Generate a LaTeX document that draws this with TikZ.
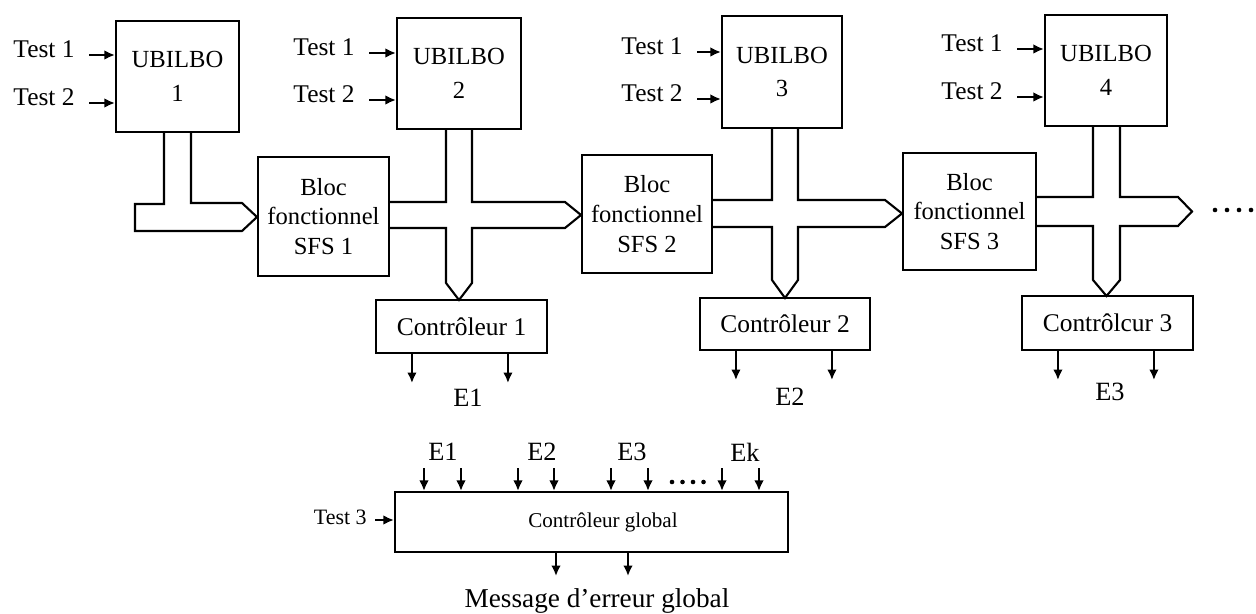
\documentclass[tikz,border=0pt]{standalone}
\usepackage{fontspec}
\setmainfont{Liberation Serif}
\usetikzlibrary{arrows.meta,calc}

\tikzset{
  sz/.style 2 args={minimum width={#1*0.02cm}, minimum height={#2*0.02cm}},
  blk/.style={draw, line width=1.2pt, align=center, inner sep=0pt},
  ubox/.style={blk, font=\fontsize{14}{19}\selectfont},
  fbox/.style={blk, font=\fontsize{14}{17}\selectfont},
  cbox/.style={blk, font=\fontsize{14.5}{17}\selectfont},
  tlab/.style={inner sep=0pt, font=\fontsize{14.5}{16}\selectfont},
  elab/.style={inner sep=0pt, font=\fontsize{15}{17}\selectfont},
  arr/.style={line width=1.3pt, -{Latex[length=6pt,width=5.5pt]}},
  bus/.style={line width=1.2pt, line join=miter},
}

% a "Test" label with its input arrow into a UBILBO box
\newcommand\testin[4]{%
  \node[tlab, anchor=east] (#1) at #2 {#3};
  \draw[arr] ($(#1.east)+(14,6)$) -- ($(#1.east -| #4.west)+(0,6)$);
}

\begin{document}
\begin{tikzpicture}[x=0.02cm, y=-0.02cm]
\useasboundingbox (0,0) rectangle (1256,614);

% UBILBO registers
\node[ubox, sz={123}{111}] (U1) at (177.5,76.5) {UBILBO\\1};
\node[ubox, sz={124}{111}] (U2) at (459,73.5)   {UBILBO\\2};
\node[ubox, sz={120}{112}] (U3) at (782,72)     {UBILBO\\3};
\node[ubox, sz={122}{111}] (U4) at (1106,70.5)  {UBILBO\\4};

% functional blocks
\node[fbox, sz={131}{119}] (S1) at (323.5,216.5) {Bloc\\fonctionnel\\SFS 1};
\node[fbox, sz={130}{118}] (S2) at (647,214)     {Bloc\\fonctionnel\\SFS 2};
\node[fbox, sz={133}{117}] (S3) at (969.5,211.5) {Bloc\\fonctionnel\\SFS 3};

% local checkers
\node[cbox, sz={171}{53}] (C1) at (461.5,326.5) {Contrôleur 1};
\node[cbox, sz={170}{52}] (C2) at (785,324)     {Contrôleur 2};
\node[cbox, sz={171}{54}] (C3) at (1107.5,323)  {Contrôlcur 3};

% test inputs
\testin{ta1}{(75,49)}{Test 1}{U1}
\testin{tb1}{(75,97)}{Test 2}{U1}
\testin{ta2}{(355,47)}{Test 1}{U2}
\testin{tb2}{(355,94)}{Test 2}{U2}
\testin{ta3}{(683,46)}{Test 1}{U3}
\testin{tb3}{(683,93)}{Test 2}{U3}
\testin{ta4}{(1003,43)}{Test 1}{U4}
\testin{tb4}{(1003,91)}{Test 2}{U4}

% buses
\draw[bus] (164,132) -- (164,204) -- (135,204) -- (135,231) -- (242,231)
  -- (257,217) -- (242,203) -- (191,203) -- (191,132);

\draw[bus] (446,129) -- (446,202) -- (389,202)
  (389,228) -- (446,228) -- (446,283) -- (459,300) -- (472,283) -- (472,228)
  -- (565,228) -- (581,215) -- (565,202) -- (472,202) -- (472,129);

\draw[bus] (772,128) -- (772,200) -- (712,200)
  (712,227) -- (772,227) -- (772,280) -- (785,298) -- (798,280) -- (798,227)
  -- (885,227) -- (902,213.5) -- (885,200) -- (798,200) -- (798,128);

\draw[bus] (1093,126) -- (1093,197) -- (1036,197)
  (1036,226) -- (1093,226) -- (1093,280) -- (1106.5,296) -- (1120,280) -- (1120,226)
  -- (1178,226) -- (1192,211.5) -- (1178,197) -- (1120,197) -- (1120,126);

% continuation dots
\foreach \x in {1215,1227,1239,1251} \fill (\x,210) circle (2.3);

% checker outputs
\foreach \c in {C1,C2,C3} {
  \draw[arr] ($(\c.south west)+(37,0)$) -- ++(0,29);
  \draw[arr] ($(\c.south west)+(133,0)$) -- ++(0,29);
}
\node[elab] (e1) at (468,398) {E1};
\node[elab] (e2) at (790,397) {E2};
\node[elab] (e3) at (1110,392) {E3};

% global checker
\node[blk, sz={393}{60}, font=\fontsize{12}{14}\selectfont] (G) at (591.5,522)
  {\hspace*{0.46cm}Contrôleur global};

\node[elab] (g1) at (443,452) {E1};
\node[elab] (g2) at (542,452) {E2};
\node[elab] (g3) at (632,452) {E3};
\node[elab] (gk) at (745,452) {Ek};
\foreach \x in {424,461,518,554,611,648,722,759}
  \draw[arr] (\x,468) -- (G.north -| \x,0);
\foreach \x in {672,682.5,693,703.5} \fill (\x,482) circle (2.3);

\node[tlab, anchor=east, font=\fontsize{12.5}{14}\selectfont] (t3) at (367,517) {Test 3};
\draw[arr] ($(t3.east)+(8,3)$) -- ($(t3.east -| G.west)+(0,3)$);

\draw[arr] (G.south -| 556,0) -- ++(0,23);
\draw[arr] (G.south -| 628,0) -- ++(0,23);
\node[inner sep=0pt, font=\fontsize{15.5}{18}\selectfont] (msg) at (597,601) {Message d'erreur global};
\end{tikzpicture}
\end{document}
